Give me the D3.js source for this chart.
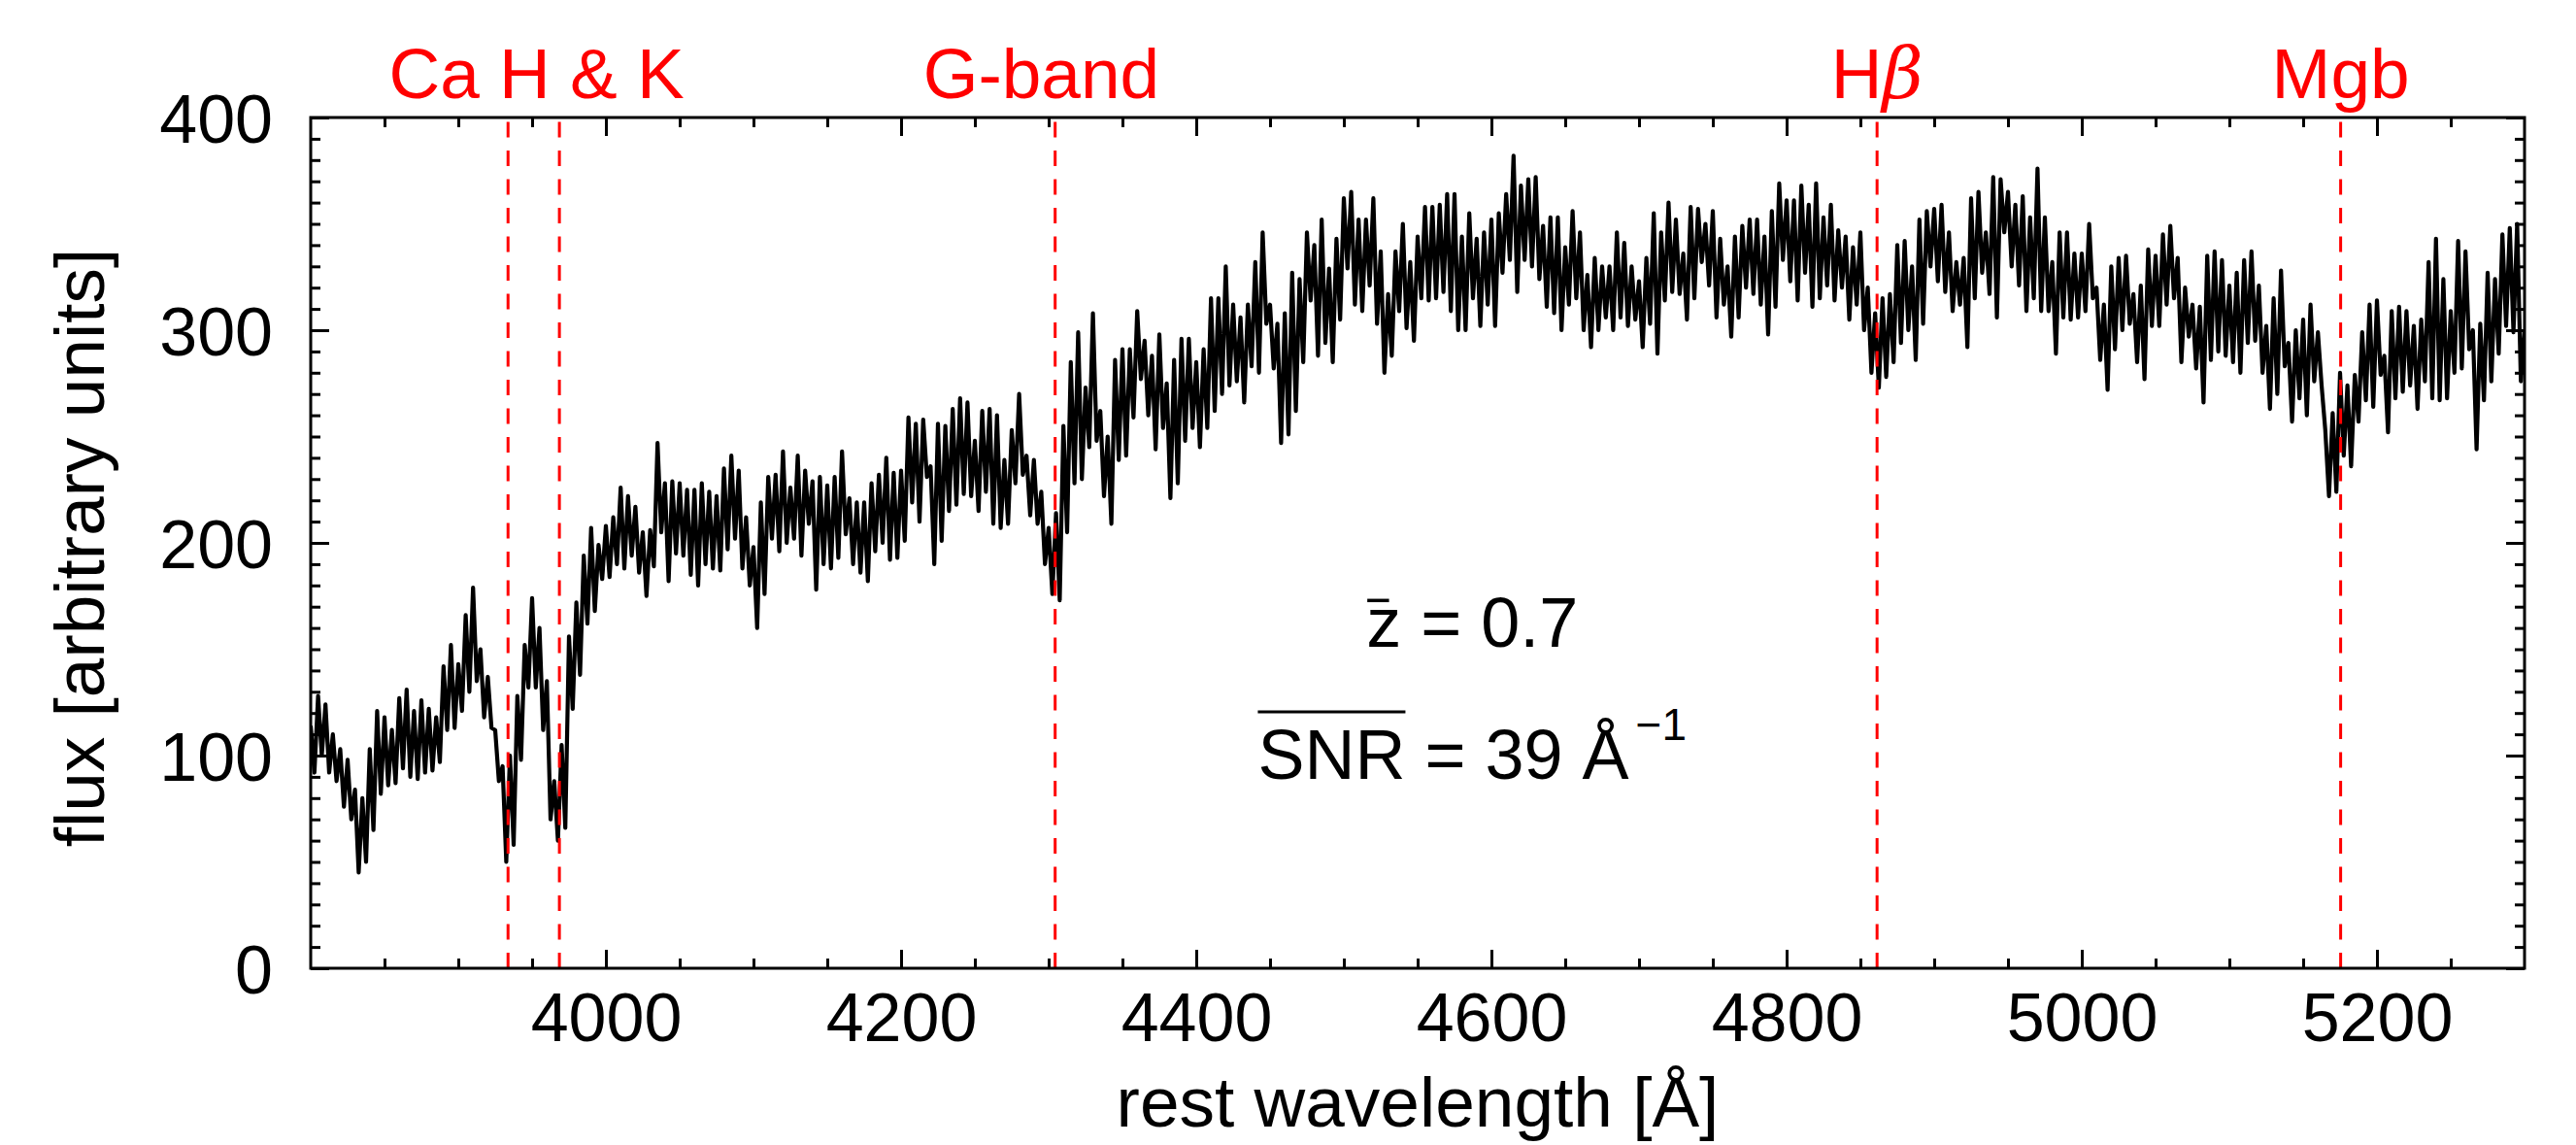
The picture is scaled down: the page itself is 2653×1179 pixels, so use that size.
<!DOCTYPE html>
<html>
<head>
<meta charset="utf-8">
<script src="https://cdn.jsdelivr.net/npm/d3@7"></script>
<style>
    body { margin: 0; background: #fff; }
    text { font-family: "Liberation Sans", Arial, Helvetica, sans-serif; }
</style>
</head>
<body>
<svg id="chart" width="2653" height="1179"></svg>
<script>
var waveStart = 3800,
    waveStep = 2.5;

var flux = [
    114, 92, 128, 100, 124, 92, 110, 88, 103, 76, 98, 70, 84, 45, 80, 50, 103, 65, 121, 82,          // 3800
    118, 86, 112, 87, 127, 94, 131, 90, 121, 89, 126, 92, 122, 93, 118, 97, 142, 112, 152, 113,      // 3850
    143, 121, 166, 130, 179, 135, 150, 118, 137, 113, 112, 88, 95, 50, 100, 58, 128, 98, 152, 132,   // 3900
    174, 132, 160, 112, 135, 70, 88, 60, 105, 66, 156, 122, 172, 138, 194, 162, 207, 168, 199, 183,  // 3950
    208, 184, 212, 190, 226, 188, 222, 194, 217, 186, 205, 175, 206, 189, 247, 205, 228, 182, 229, 195, // 4000
    228, 194, 225, 185, 225, 180, 228, 190, 224, 188, 222, 187, 235, 197, 241, 202, 234, 188, 212, 180, // 4050
    198, 160, 219, 176, 231, 202, 232, 196, 243, 200, 226, 202, 241, 194, 234, 209, 229, 178, 231, 190, // 4100
    227, 188, 231, 193, 243, 204, 221, 190, 219, 186, 219, 182, 228, 196, 232, 200, 240, 192, 233, 193, // 4150
    234, 201, 259, 219, 256, 210, 258, 231, 236, 190, 256, 201, 255, 215, 263, 218, 268, 223, 266, 222, // 4200
    248, 215, 262, 224, 263, 209, 260, 207, 239, 209, 253, 228, 270, 232, 241, 213, 239, 209, 224, 190, // 4250
    207, 176, 214, 173, 255, 205, 285, 228, 299, 230, 273, 245, 308, 248, 262, 222, 250, 209, 286, 239, // 4300
    291, 241, 291, 259, 309, 277, 295, 260, 288, 244, 298, 254, 275, 221, 286, 228, 296, 248, 296, 254, // 4350
    285, 245, 291, 254, 315, 262, 315, 270, 330, 274, 312, 276, 306, 266, 312, 283, 332, 280, 346, 303, // 4400
    312, 282, 303, 247, 308, 251, 327, 262, 324, 285, 346, 314, 340, 288, 352, 294, 329, 285, 343, 305, // 4450
    362, 329, 365, 312, 352, 309, 352, 321, 362, 303, 337, 280, 317, 288, 337, 309, 350, 301, 332, 295, // 4500
    344, 315, 358, 314, 358, 315, 359, 318, 364, 309, 364, 300, 344, 300, 355, 315, 343, 302, 346, 312, // 4550
    352, 302, 355, 327, 364, 333, 382, 318, 368, 333, 371, 330, 372, 324, 349, 311, 353, 308, 353, 300, // 4600
    339, 312, 356, 315, 346, 300, 326, 292, 334, 300, 330, 306, 330, 300, 346, 306, 341, 302, 330, 305, // 4650
    323, 292, 334, 303, 355, 289, 346, 314, 360, 318, 352, 317, 336, 305, 358, 315, 357, 332, 350, 321, // 4700
    356, 306, 343, 312, 330, 297, 344, 306, 349, 320, 352, 317, 352, 312, 344, 298, 356, 311, 369, 333, // 4750
    361, 323, 361, 314, 368, 327, 359, 311, 369, 315, 353, 321, 359, 314, 347, 320, 344, 305, 339, 312, // 4800
    346, 300, 320, 280, 308, 273, 315, 278, 317, 285, 340, 294, 342, 300, 330, 286, 352, 303, 356, 330, // 4850
    357, 323, 359, 318, 346, 309, 332, 312, 334, 292, 362, 315, 365, 327, 346, 317, 372, 306, 371, 346, // 4900
    365, 330, 359, 321, 363, 309, 353, 315, 376, 309, 353, 309, 332, 289, 346, 306, 346, 305, 336, 306, // 4950
    336, 309, 350, 315, 320, 286, 312, 272, 330, 291, 334, 300, 335, 303, 317, 285, 321, 277, 338, 302, // 5000
    335, 302, 345, 312, 349, 315, 334, 285, 320, 297, 312, 282, 311, 266, 335, 286, 337, 290, 333, 288, // 5050
    321, 285, 327, 280, 333, 294, 337, 295, 321, 280, 302, 263, 315, 270, 328, 283, 294, 257, 300, 268, // 5100
    305, 260, 312, 276, 299, 274, 253, 222, 261, 224, 280, 241, 274, 236, 279, 257, 299, 267, 312, 264, // 5150
    314, 279, 288, 252, 309, 268, 311, 271, 309, 274, 302, 263, 305, 276, 332, 268, 343, 267, 324, 268, // 5200
    309, 280, 342, 282, 337, 291, 300, 244, 303, 267, 327, 276, 324, 289, 345, 302, 348, 299, 350, 276, // 5250
    300                                                                                               // 5300
];

var featureWaves = [3933.7, 3968.5, 4304.4, 4861.3, 5175.4];
var featureLabels = ["Ca H & K", "G-band", "H", "Mgb"];
var featureLabelWaves = [3953, 4295, 4861.3, 5175.4];

var xTickValues = [4000, 4200, 4400, 4600, 4800, 5000, 5200];
var yTickValues = [0, 100, 200, 300, 400];

var meanRedshift = "0.7",
    meanSNR = "39";

var svg = d3.select("#chart"),
    margin = {top: 121, right: 53, bottom: 182, left: 320},
    width = +svg.attr("width") - margin.left - margin.right,
    height = +svg.attr("height") - margin.top - margin.bottom,
    g = svg.append("g").attr("transform", "translate(" + margin.left + "," + margin.top + ")");

var x = d3.scaleLinear().domain([3800, 5300]).range([0, width]);
var y = d3.scaleLinear().domain([0, 400]).range([height, 0]);

svg.append("clipPath")
    .attr("id", "plot-clip")
    .append("rect")
    .attr("width", width)
    .attr("height", height);

// spectrum
var line = d3.line()
    .x(function(d, i) { return x(waveStart + i * waveStep); })
    .y(function(d) { return y(d); });

g.append("path")
    .datum(flux)
    .attr("clip-path", "url(#plot-clip)")
    .attr("fill", "none")
    .attr("stroke", "#000")
    .attr("stroke-width", 4.2)
    .attr("stroke-linejoin", "round")
    .attr("d", line);

// absorption features, dashes start at the bottom axis
g.selectAll("line.feature")
    .data(featureWaves)
    .enter()
    .append("line")
    .attr("class", "feature")
    .attr("x1", function(d) { return x(d); })
    .attr("x2", function(d) { return x(d); })
    .attr("y1", height)
    .attr("y2", 0)
    .attr("stroke", "#ff0000")
    .attr("stroke-width", 3)
    .attr("stroke-dasharray", "16,13.5");

var labels = g.selectAll("text.feature")
    .data(featureLabels)
    .enter()
    .append("text")
    .attr("class", "feature")
    .attr("x", function(d, i) { return x(featureLabelWaves[i]); })
    .attr("y", -20)
    .attr("text-anchor", "middle")
    .attr("font-size", 73)
    .attr("fill", "#ff0000")
    .text(function(d) { return d; });

labels.filter(function(d) { return d === "H"; })
    .append("tspan")
    .attr("font-family", "DejaVu Serif, serif")
    .attr("font-style", "italic")
    .text("β");

// axes, ticks inward on all four sides
function styleAxis(sel) {
    sel.select(".domain").remove();
    sel.selectAll(".tick line").attr("stroke-width", 3);
    sel.attr("font-size", 70)
        .attr("font-family", "Liberation Sans, Arial, Helvetica, sans-serif")
        .attr("color", "#000");
}

var xMinor = d3.range(3850, 5300, 50),
    yMinor = d3.range(10, 400, 10);

g.append("g").attr("transform", "translate(0," + height + ")")
    .call(d3.axisBottom(x).tickValues(xMinor).tickSize(-10).tickFormat(""))
    .call(styleAxis);
g.append("g").attr("transform", "translate(0," + height + ")")
    .call(d3.axisBottom(x).tickValues(xTickValues).tickSize(-19).tickPadding(25).tickFormat(d3.format("d")))
    .call(styleAxis);

g.append("g")
    .call(d3.axisTop(x).tickValues(xMinor).tickSize(-10).tickFormat(""))
    .call(styleAxis);
g.append("g")
    .call(d3.axisTop(x).tickValues(xTickValues).tickSize(-19).tickFormat(""))
    .call(styleAxis);

g.append("g")
    .call(d3.axisLeft(y).tickValues(yMinor).tickSize(-10).tickFormat(""))
    .call(styleAxis);
g.append("g")
    .call(d3.axisLeft(y).tickValues(yTickValues).tickSize(-19).tickPadding(39).tickFormat(d3.format("d")))
    .call(styleAxis)
    .selectAll("text").attr("dy", "0.36em");

g.append("g").attr("transform", "translate(" + width + ",0)")
    .call(d3.axisRight(y).tickValues(yMinor).tickSize(-10).tickFormat(""))
    .call(styleAxis);
g.append("g").attr("transform", "translate(" + width + ",0)")
    .call(d3.axisRight(y).tickValues(yTickValues).tickSize(-19).tickFormat(""))
    .call(styleAxis);

g.append("rect")
    .attr("width", width)
    .attr("height", height)
    .attr("fill", "none")
    .attr("stroke", "#000")
    .attr("stroke-width", 3);

// axis titles
g.append("text")
    .attr("x", width / 2)
    .attr("y", height + 163)
    .attr("text-anchor", "middle")
    .attr("font-size", 73)
    .text("rest wavelength [Å]");

g.append("text")
    .attr("transform", "translate(" + (107 - margin.left) + "," + (height / 2 + 5) + ") rotate(-90)")
    .attr("text-anchor", "middle")
    .attr("font-size", 73)
    .text("flux [arbitrary units]");

// redshift / SNR note
var noteWave = 4587;
var note = g.append("g").attr("font-size", 72).attr("text-anchor", "middle");

var zText = note.append("text")
    .attr("x", x(noteWave))
    .attr("y", y(151))
    .text("z = " + meanRedshift);

var zNode = zText.node(),
    z0 = zNode.getStartPositionOfChar(0).x,
    z1 = zNode.getEndPositionOfChar(0).x;

note.append("line")
    .attr("x1", z0 + 1)
    .attr("x2", z0 + 0.65 * (z1 - z0))
    .attr("y1", y(151) - 48)
    .attr("y2", y(151) - 48)
    .attr("stroke", "#000")
    .attr("stroke-width", 3.5);

var snrText = note.append("text")
    .attr("x", x(noteWave))
    .attr("y", y(89));

snrText.append("tspan").text("SNR = " + meanSNR + " Å");
snrText.append("tspan")
    .attr("font-size", 46)
    .attr("dx", 7)
    .attr("dy", -40)
    .text("−1");

var snrNode = snrText.node(),
    s0 = snrNode.getStartPositionOfChar(0).x,
    s1 = snrNode.getEndPositionOfChar(2).x;

note.append("line")
    .attr("x1", s0)
    .attr("x2", s1)
    .attr("y1", y(89) - 69)
    .attr("y2", y(89) - 69)
    .attr("stroke", "#000")
    .attr("stroke-width", 3);
</script>
</body>
</html>
